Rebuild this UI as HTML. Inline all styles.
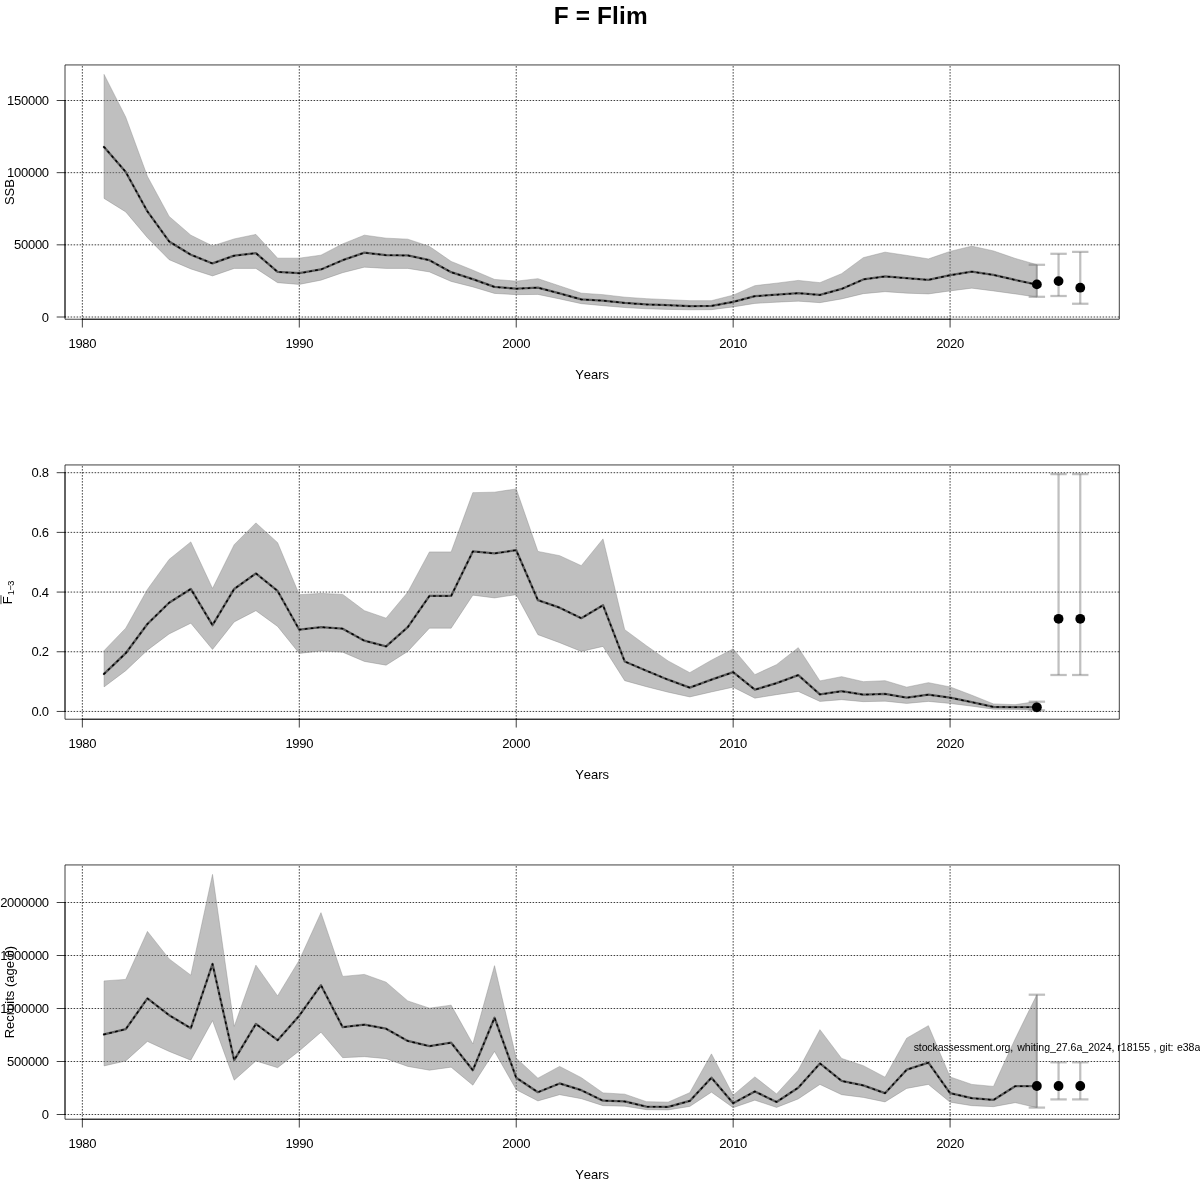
<!DOCTYPE html>
<html lang="en">
<head>
<meta charset="utf-8">
<title>F = Flim</title>
<style>
html,body{margin:0;padding:0;background:#fff;}
body{width:1200px;height:1200px;overflow:hidden;}
svg{display:block;font-kerning:none;}
.n{letter-spacing:-0.28px;}
</style>
</head>
<body>
<svg width="1200" height="1200" viewBox="0 0 1200 1200" font-family="'Liberation Sans', Arial, Helvetica, sans-serif" font-size="13.0" fill="#000">
<rect width="1200" height="1200" fill="#fff"/>
<text x="600.8" y="23.8" text-anchor="middle" font-size="24.4" font-weight="bold" letter-spacing="0.15">F = Flim</text>
<path d="M82.35 319.22V64.94M299.29 319.22V64.94M516.22 319.22V64.94M733.16 319.22V64.94M950.09 319.22V64.94M65 317H1119.3M65 244.83H1119.3M65 172.67H1119.3M65 100.5H1119.3" fill="none" stroke="#000" stroke-width="0.75" stroke-linecap="round" stroke-dasharray="0.75 2.25"/>
<polyline fill="none" stroke="#000" stroke-opacity="0.78" stroke-width="2.3" stroke-linejoin="round" stroke-linecap="round" points="104.05,146.95 125.74,171.95 147.43,211.45 169.13,241.45 190.82,254.7 212.52,263.45 234.21,255.7 255.9,253.2 277.6,271.95 299.29,273.2 320.98,269.45 342.68,260.2 364.37,252.7 386.06,255.2 407.76,255.45 429.45,260.2 451.14,272.2 472.84,279.2 494.53,286.95 516.22,288.7 537.92,287.7 559.61,293.45 581.3,299.45 603,300.7 624.69,302.95 646.38,304.45 668.08,305.2 689.77,306.2 711.46,305.95 733.16,301.95 754.85,296.2 776.54,294.7 798.24,293.2 819.93,294.95 841.62,288.95 863.32,279.45 885.01,276.45 906.7,278.2 928.4,279.95 950.09,275.2 971.78,271.7 993.48,274.95 1015.17,279.95 1036.87,284.7"/>
<polygon fill="rgb(128,128,128)" fill-opacity="0.5" stroke="rgb(128,128,128)" stroke-opacity="0.5" stroke-width="0.75" stroke-linejoin="round" points="104.05,198.4 125.74,211.9 147.43,237.65 169.13,259.65 190.82,268.9 212.52,275.9 234.21,268.4 255.9,268.4 277.6,282.65 299.29,284.4 320.98,280.15 342.68,272.65 364.37,267.15 386.06,268.4 407.76,268.4 429.45,271.9 451.14,281.4 472.84,286.9 494.53,293.4 516.22,294.65 537.92,294.4 559.61,298.9 581.3,303.65 603,305.65 624.69,307.52 646.38,308.77 668.08,309.4 689.77,309.77 711.46,309.65 733.16,306.9 754.85,303.4 776.54,302.15 798.24,301.15 819.93,302.65 841.62,298.9 863.32,293.65 885.01,291.65 906.7,293.15 928.4,293.9 950.09,290.9 971.78,288.15 993.48,290.9 1015.17,293.9 1036.87,297.15 1036.87,264.65 1015.17,258.4 993.48,250.9 971.78,246.15 950.09,251.4 928.4,258.9 906.7,255.4 885.01,252.15 863.32,257.65 841.62,273.65 819.93,282.65 798.24,280.4 776.54,283.15 754.85,285.65 733.16,295.15 711.46,300.65 689.77,300.65 668.08,299.65 646.38,298.65 624.69,297.15 603,294.65 581.3,293.15 559.61,285.9 537.92,278.65 516.22,281.15 494.53,279.4 472.84,270.15 451.14,261.4 429.45,246.4 407.76,239.15 386.06,238.15 364.37,235.15 342.68,243.9 320.98,255.15 299.29,258.15 277.6,258.15 255.9,234.4 234.21,238.9 212.52,245.9 190.82,235.15 169.13,216.4 147.43,176.4 125.74,117.15 104.05,74.4"/>
<polyline fill="none" stroke="#000" stroke-width="1.5" stroke-linecap="round" stroke-linejoin="round" stroke-dasharray="1.5 4.5" points="104.05,146.95 125.74,171.95 147.43,211.45 169.13,241.45 190.82,254.7 212.52,263.45 234.21,255.7 255.9,253.2 277.6,271.95 299.29,273.2 320.98,269.45 342.68,260.2 364.37,252.7 386.06,255.2 407.76,255.45 429.45,260.2 451.14,272.2 472.84,279.2 494.53,286.95 516.22,288.7 537.92,287.7 559.61,293.45 581.3,299.45 603,300.7 624.69,302.95 646.38,304.45 668.08,305.2 689.77,306.2 711.46,305.95 733.16,301.95 754.85,296.2 776.54,294.7 798.24,293.2 819.93,294.95 841.62,288.95 863.32,279.45 885.01,276.45 906.7,278.2 928.4,279.95 950.09,275.2 971.78,271.7 993.48,274.95 1015.17,279.95 1036.87,284.7"/>
<path d="M1036.87 264.8V296.8" fill="none" stroke="rgb(128,128,128)" stroke-opacity="0.5" stroke-width="2.25"/>
<path d="M1028.67 264.8H1045.07" fill="none" stroke="rgb(128,128,128)" stroke-opacity="0.5" stroke-width="2.25"/>
<path d="M1028.67 296.8H1045.07" fill="none" stroke="rgb(128,128,128)" stroke-opacity="0.5" stroke-width="2.25"/>
<path d="M1058.56 253.8V296" fill="none" stroke="rgb(128,128,128)" stroke-opacity="0.5" stroke-width="2.25"/>
<path d="M1050.36 253.8H1066.76" fill="none" stroke="rgb(128,128,128)" stroke-opacity="0.5" stroke-width="2.25"/>
<path d="M1050.36 296H1066.76" fill="none" stroke="rgb(128,128,128)" stroke-opacity="0.5" stroke-width="2.25"/>
<path d="M1080.25 251.9V303.75" fill="none" stroke="rgb(128,128,128)" stroke-opacity="0.5" stroke-width="2.25"/>
<path d="M1072.05 251.9H1088.45" fill="none" stroke="rgb(128,128,128)" stroke-opacity="0.5" stroke-width="2.25"/>
<path d="M1072.05 303.75H1088.45" fill="none" stroke="rgb(128,128,128)" stroke-opacity="0.5" stroke-width="2.25"/>
<circle cx="1036.87" cy="284.4" r="4.9"/>
<circle cx="1058.56" cy="281.1" r="4.9"/>
<circle cx="1080.25" cy="287.7" r="4.9"/>
<rect x="65" y="64.94" width="1054.3" height="254.28" fill="none" stroke="#000" stroke-width="0.75" stroke-linejoin="round"/>
<path d="M82.35 319.22H950.09M82.35 319.22v7.92M299.29 319.22v7.92M516.22 319.22v7.92M733.16 319.22v7.92M950.09 319.22v7.92M65 317V100.5M65 317h-7.92M65 244.83h-7.92M65 172.67h-7.92M65 100.5h-7.92" fill="none" stroke="#000" stroke-width="0.75" stroke-linecap="round"/>
<text class="n" x="82.35" y="347.92" text-anchor="middle">1980</text>
<text class="n" x="299.29" y="347.92" text-anchor="middle">1990</text>
<text class="n" x="516.22" y="347.92" text-anchor="middle">2000</text>
<text class="n" x="733.16" y="347.92" text-anchor="middle">2010</text>
<text class="n" x="950.09" y="347.92" text-anchor="middle">2020</text>
<text class="n" x="48.8" y="321.6" text-anchor="end">0</text>
<text class="n" x="48.8" y="249.43" text-anchor="end">50000</text>
<text class="n" x="48.8" y="177.27" text-anchor="end">100000</text>
<text class="n" x="48.8" y="105.1" text-anchor="end">150000</text>
<text x="592.15" y="379.02" text-anchor="middle">Years</text>
<text transform="translate(14.2 192.08) rotate(-90)" text-anchor="middle">SSB</text>
<path d="M82.35 719.22V464.94M299.29 719.22V464.94M516.22 719.22V464.94M733.16 719.22V464.94M950.09 719.22V464.94M65 711.45H1119.3M65 651.76H1119.3M65 592.07H1119.3M65 532.39H1119.3M65 472.7H1119.3" fill="none" stroke="#000" stroke-width="0.75" stroke-linecap="round" stroke-dasharray="0.75 2.25"/>
<polyline fill="none" stroke="#000" stroke-opacity="0.78" stroke-width="2.3" stroke-linejoin="round" stroke-linecap="round" points="104.05,673.95 125.74,653.2 147.43,623.95 169.13,602.7 190.82,588.95 212.52,625.2 234.21,588.95 255.9,573.45 277.6,590.95 299.29,629.7 320.98,627.2 342.68,628.7 364.37,640.7 386.06,646.45 407.76,627.2 429.45,595.95 451.14,595.95 472.84,551.45 494.53,553.45 516.22,550.2 537.92,600.2 559.61,607.7 581.3,618.2 603,605.2 624.69,661.45 646.38,670.7 668.08,679.7 689.77,687.7 711.46,679.7 733.16,672.2 754.85,689.7 776.54,683.2 798.24,675.2 819.93,694.45 841.62,691.2 863.32,694.7 885.01,693.95 906.7,697.7 928.4,694.7 950.09,697.7 971.78,702.2 993.48,706.95 1015.17,707.2 1036.87,707.2"/>
<polygon fill="rgb(128,128,128)" fill-opacity="0.5" stroke="rgb(128,128,128)" stroke-opacity="0.5" stroke-width="0.75" stroke-linejoin="round" points="104.05,686.9 125.74,670.65 147.43,650.15 169.13,633.9 190.82,623.15 212.52,649.4 234.21,621.9 255.9,610.65 277.6,626.4 299.29,653.4 320.98,650.9 342.68,652.15 364.37,661.4 386.06,665.15 407.76,651.4 429.45,628.15 451.14,628.15 472.84,595.15 494.53,597.9 516.22,594.65 537.92,634.65 559.61,642.65 581.3,651.4 603,646.4 624.69,680.65 646.38,686.65 668.08,692.15 689.77,696.9 711.46,691.9 733.16,687.15 754.85,698.15 776.54,694.65 798.24,691.4 819.93,701.4 841.62,699.65 863.32,701.65 885.01,701.15 906.7,703.4 928.4,701.4 950.09,703.4 971.78,706.15 993.48,709.15 1015.17,709.4 1036.87,710.15 1036.87,701.4 1015.17,704.65 993.48,703.9 971.78,695.15 950.09,686.9 928.4,682.65 906.7,687.15 885.01,680.65 863.32,681.65 841.62,676.65 819.93,680.9 798.24,647.65 776.54,664.65 754.85,674.65 733.16,648.9 711.46,660.15 689.77,672.65 668.08,660.9 646.38,645.65 624.69,629.65 603,538.9 581.3,565.65 559.61,555.65 537.92,551.4 516.22,488.9 494.53,492.15 472.84,492.65 451.14,551.9 429.45,551.9 407.76,592.15 386.06,618.15 364.37,610.65 342.68,594.4 320.98,593.4 299.29,594.65 277.6,542.65 255.9,522.9 234.21,544.65 212.52,588.4 190.82,541.9 169.13,559.4 147.43,589.4 125.74,628.15 104.05,650.65"/>
<polyline fill="none" stroke="#000" stroke-width="1.5" stroke-linecap="round" stroke-linejoin="round" stroke-dasharray="1.5 4.5" points="104.05,673.95 125.74,653.2 147.43,623.95 169.13,602.7 190.82,588.95 212.52,625.2 234.21,588.95 255.9,573.45 277.6,590.95 299.29,629.7 320.98,627.2 342.68,628.7 364.37,640.7 386.06,646.45 407.76,627.2 429.45,595.95 451.14,595.95 472.84,551.45 494.53,553.45 516.22,550.2 537.92,600.2 559.61,607.7 581.3,618.2 603,605.2 624.69,661.45 646.38,670.7 668.08,679.7 689.77,687.7 711.46,679.7 733.16,672.2 754.85,689.7 776.54,683.2 798.24,675.2 819.93,694.45 841.62,691.2 863.32,694.7 885.01,693.95 906.7,697.7 928.4,694.7 950.09,697.7 971.78,702.2 993.48,706.95 1015.17,707.2 1036.87,707.2"/>
<path d="M1036.87 701.7V710.3" fill="none" stroke="rgb(128,128,128)" stroke-opacity="0.5" stroke-width="2.25"/>
<path d="M1028.67 701.7H1045.07" fill="none" stroke="rgb(128,128,128)" stroke-opacity="0.5" stroke-width="2.25"/>
<path d="M1028.67 710.3H1045.07" fill="none" stroke="rgb(128,128,128)" stroke-opacity="0.5" stroke-width="2.25"/>
<path d="M1058.56 474.1V675" fill="none" stroke="rgb(128,128,128)" stroke-opacity="0.5" stroke-width="2.25"/>
<path d="M1050.36 474.1H1066.76" fill="none" stroke="rgb(128,128,128)" stroke-opacity="0.5" stroke-width="2.25"/>
<path d="M1050.36 675H1066.76" fill="none" stroke="rgb(128,128,128)" stroke-opacity="0.5" stroke-width="2.25"/>
<path d="M1080.25 474.1V675" fill="none" stroke="rgb(128,128,128)" stroke-opacity="0.5" stroke-width="2.25"/>
<path d="M1072.05 474.1H1088.45" fill="none" stroke="rgb(128,128,128)" stroke-opacity="0.5" stroke-width="2.25"/>
<path d="M1072.05 675H1088.45" fill="none" stroke="rgb(128,128,128)" stroke-opacity="0.5" stroke-width="2.25"/>
<circle cx="1036.87" cy="707.3" r="4.9"/>
<circle cx="1058.56" cy="618.8" r="4.9"/>
<circle cx="1080.25" cy="618.8" r="4.9"/>
<rect x="65" y="464.94" width="1054.3" height="254.28" fill="none" stroke="#000" stroke-width="0.75" stroke-linejoin="round"/>
<path d="M82.35 719.22H950.09M82.35 719.22v7.92M299.29 719.22v7.92M516.22 719.22v7.92M733.16 719.22v7.92M950.09 719.22v7.92M65 711.45V472.7M65 711.45h-7.92M65 651.76h-7.92M65 592.07h-7.92M65 532.39h-7.92M65 472.7h-7.92" fill="none" stroke="#000" stroke-width="0.75" stroke-linecap="round"/>
<text class="n" x="82.35" y="747.92" text-anchor="middle">1980</text>
<text class="n" x="299.29" y="747.92" text-anchor="middle">1990</text>
<text class="n" x="516.22" y="747.92" text-anchor="middle">2000</text>
<text class="n" x="733.16" y="747.92" text-anchor="middle">2010</text>
<text class="n" x="950.09" y="747.92" text-anchor="middle">2020</text>
<text class="n" x="48.8" y="716.05" text-anchor="end">0.0</text>
<text class="n" x="48.8" y="656.36" text-anchor="end">0.2</text>
<text class="n" x="48.8" y="596.67" text-anchor="end">0.4</text>
<text class="n" x="48.8" y="536.99" text-anchor="end">0.6</text>
<text class="n" x="48.8" y="477.3" text-anchor="end">0.8</text>
<text x="592.15" y="779.02" text-anchor="middle">Years</text>
<g transform="translate(11.9 592.08) rotate(-90)"><text x="-12.1" y="0">F<tspan dx="1.1" dy="2.35" font-size="9.2" letter-spacing="-0.5">1−3</tspan></text><rect x="-12.1" y="-11.9" width="9" height="1.9" fill="#999"/></g>
<path d="M82.35 1119.22V864.94M299.29 1119.22V864.94M516.22 1119.22V864.94M733.16 1119.22V864.94M950.09 1119.22V864.94M65 1114.5H1119.3M65 1061.5H1119.3M65 1008.5H1119.3M65 955.5H1119.3M65 902.5H1119.3" fill="none" stroke="#000" stroke-width="0.75" stroke-linecap="round" stroke-dasharray="0.75 2.25"/>
<polyline fill="none" stroke="#000" stroke-opacity="0.78" stroke-width="2.3" stroke-linejoin="round" stroke-linecap="round" points="104.05,1034.45 125.74,1029.2 147.43,998.45 169.13,1015.2 190.82,1028.2 212.52,963.95 234.21,1060.2 255.9,1023.95 277.6,1040.2 299.29,1015.7 320.98,985.2 342.68,1027.2 364.37,1024.7 386.06,1028.7 407.76,1040.95 429.45,1046.2 451.14,1042.7 472.84,1070.2 494.53,1017.7 516.22,1077.7 537.92,1092.2 559.61,1083.45 581.3,1090.2 603,1100.7 624.69,1101.45 646.38,1106.7 668.08,1106.95 689.77,1100.95 711.46,1077.7 733.16,1103.2 754.85,1091.45 776.54,1101.95 798.24,1087.7 819.93,1063.45 841.62,1080.95 863.32,1085.45 885.01,1093.2 906.7,1069.7 928.4,1062.7 950.09,1093.2 971.78,1098.2 993.48,1099.95 1015.17,1086.2 1036.87,1086.2"/>
<polygon fill="rgb(128,128,128)" fill-opacity="0.5" stroke="rgb(128,128,128)" stroke-opacity="0.5" stroke-width="0.75" stroke-linejoin="round" points="104.05,1065.9 125.74,1060.9 147.43,1041.4 169.13,1051.4 190.82,1060.15 212.52,1020.65 234.21,1080.15 255.9,1060.9 277.6,1067.65 299.29,1050.9 320.98,1032.15 342.68,1057.65 364.37,1056.65 386.06,1058.65 407.76,1066.4 429.45,1070.15 451.14,1067.15 472.84,1085.15 494.53,1051.4 516.22,1089.65 537.92,1100.9 559.61,1094.65 581.3,1098.65 603,1105.65 624.69,1106.15 646.38,1109.65 668.08,1109.9 689.77,1106.4 711.46,1092.15 733.16,1107.65 754.85,1100.15 776.54,1107.4 798.24,1098.9 819.93,1084.4 841.62,1094.65 863.32,1097.4 885.01,1101.9 906.7,1088.4 928.4,1084.4 950.09,1102.15 971.78,1105.65 993.48,1106.65 1015.17,1102.65 1036.87,1107.65 1036.87,994.65 1015.17,1038.9 993.48,1086.4 971.78,1084.4 950.09,1076.9 928.4,1025.65 906.7,1038.15 885.01,1077.15 863.32,1065.65 841.62,1058.4 819.93,1029.65 798.24,1070.15 776.54,1093.9 754.85,1076.9 733.16,1095.15 711.46,1053.9 689.77,1092.65 668.08,1102.15 646.38,1101.65 624.69,1094.15 603,1092.9 581.3,1077.65 559.61,1066.4 537.92,1078.15 516.22,1058.15 494.53,965.65 472.84,1043.9 451.14,1005.15 429.45,1008.15 407.76,1000.9 386.06,982.15 364.37,974.4 342.68,976.4 320.98,912.65 299.29,960.15 277.6,995.9 255.9,965.15 234.21,1026.4 212.52,874.4 190.82,975.15 169.13,958.9 147.43,931.4 125.74,979.4 104.05,980.9"/>
<polyline fill="none" stroke="#000" stroke-width="1.5" stroke-linecap="round" stroke-linejoin="round" stroke-dasharray="1.5 4.5" points="104.05,1034.45 125.74,1029.2 147.43,998.45 169.13,1015.2 190.82,1028.2 212.52,963.95 234.21,1060.2 255.9,1023.95 277.6,1040.2 299.29,1015.7 320.98,985.2 342.68,1027.2 364.37,1024.7 386.06,1028.7 407.76,1040.95 429.45,1046.2 451.14,1042.7 472.84,1070.2 494.53,1017.7 516.22,1077.7 537.92,1092.2 559.61,1083.45 581.3,1090.2 603,1100.7 624.69,1101.45 646.38,1106.7 668.08,1106.95 689.77,1100.95 711.46,1077.7 733.16,1103.2 754.85,1091.45 776.54,1101.95 798.24,1087.7 819.93,1063.45 841.62,1080.95 863.32,1085.45 885.01,1093.2 906.7,1069.7 928.4,1062.7 950.09,1093.2 971.78,1098.2 993.48,1099.95 1015.17,1086.2 1036.87,1086.2"/>
<path d="M1036.87 994.7V1107.6" fill="none" stroke="rgb(128,128,128)" stroke-opacity="0.5" stroke-width="2.25"/>
<path d="M1028.67 994.7H1045.07" fill="none" stroke="rgb(128,128,128)" stroke-opacity="0.5" stroke-width="2.25"/>
<path d="M1028.67 1107.6H1045.07" fill="none" stroke="rgb(128,128,128)" stroke-opacity="0.5" stroke-width="2.25"/>
<path d="M1058.56 1062.3V1099.4" fill="none" stroke="rgb(128,128,128)" stroke-opacity="0.5" stroke-width="2.25"/>
<path d="M1050.36 1062.3H1066.76" fill="none" stroke="rgb(128,128,128)" stroke-opacity="0.5" stroke-width="2.25"/>
<path d="M1050.36 1099.4H1066.76" fill="none" stroke="rgb(128,128,128)" stroke-opacity="0.5" stroke-width="2.25"/>
<path d="M1080.25 1062.3V1099.4" fill="none" stroke="rgb(128,128,128)" stroke-opacity="0.5" stroke-width="2.25"/>
<path d="M1072.05 1062.3H1088.45" fill="none" stroke="rgb(128,128,128)" stroke-opacity="0.5" stroke-width="2.25"/>
<path d="M1072.05 1099.4H1088.45" fill="none" stroke="rgb(128,128,128)" stroke-opacity="0.5" stroke-width="2.25"/>
<circle cx="1036.87" cy="1086" r="4.9"/>
<circle cx="1058.56" cy="1086" r="4.9"/>
<circle cx="1080.25" cy="1086" r="4.9"/>
<rect x="65" y="864.94" width="1054.3" height="254.28" fill="none" stroke="#000" stroke-width="0.75" stroke-linejoin="round"/>
<path d="M82.35 1119.22H950.09M82.35 1119.22v7.92M299.29 1119.22v7.92M516.22 1119.22v7.92M733.16 1119.22v7.92M950.09 1119.22v7.92M65 1114.5V902.5M65 1114.5h-7.92M65 1061.5h-7.92M65 1008.5h-7.92M65 955.5h-7.92M65 902.5h-7.92" fill="none" stroke="#000" stroke-width="0.75" stroke-linecap="round"/>
<text class="n" x="82.35" y="1147.92" text-anchor="middle">1980</text>
<text class="n" x="299.29" y="1147.92" text-anchor="middle">1990</text>
<text class="n" x="516.22" y="1147.92" text-anchor="middle">2000</text>
<text class="n" x="733.16" y="1147.92" text-anchor="middle">2010</text>
<text class="n" x="950.09" y="1147.92" text-anchor="middle">2020</text>
<text class="n" x="48.8" y="1119.1" text-anchor="end">0</text>
<text class="n" x="48.8" y="1066.1" text-anchor="end">500000</text>
<text class="n" x="48.8" y="1013.1" text-anchor="end">1000000</text>
<text class="n" x="48.8" y="960.1" text-anchor="end">1500000</text>
<text class="n" x="48.8" y="907.1" text-anchor="end">2000000</text>
<text x="592.15" y="1179.02" text-anchor="middle">Years</text>
<text transform="translate(14.2 992.08) rotate(-90)" text-anchor="middle">Recruits (age 0)</text>
<text y="1050.5" font-size="10.56"><tspan x="913.7" letter-spacing="-0.13">stockassessment.org, </tspan><tspan x="1017.2">whiting_27.6a_2024, </tspan><tspan x="1117.3">r18155 </tspan><tspan x="1153.6">, git: </tspan><tspan x="1176.9">e38a</tspan></text>
</svg>
</body>
</html>
